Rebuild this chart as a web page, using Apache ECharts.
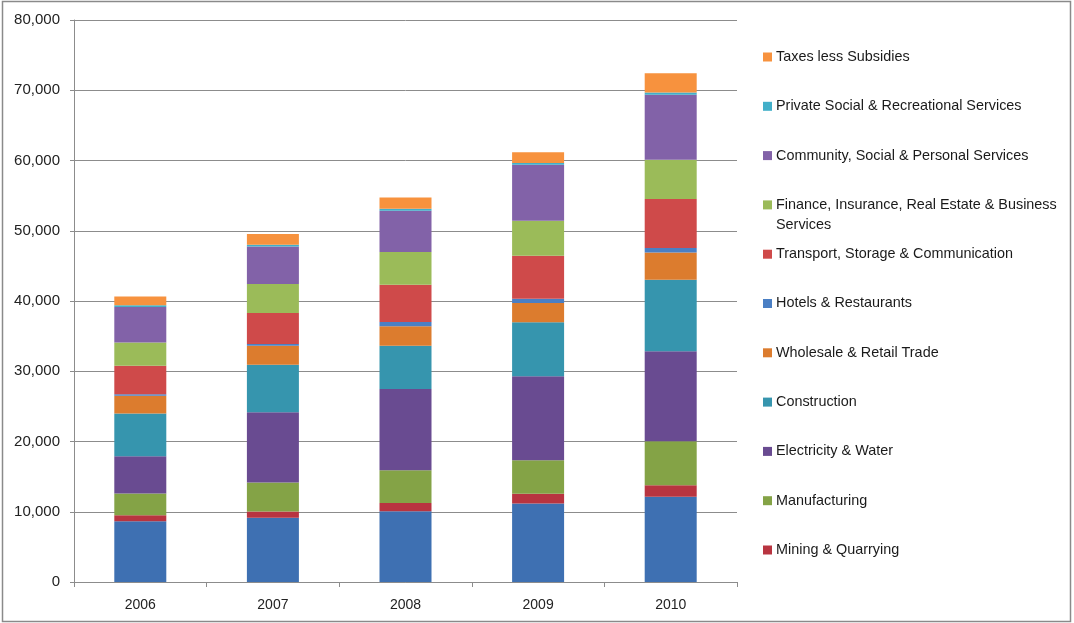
<!DOCTYPE html>
<html>
<head>
<meta charset="utf-8">
<script src="https://cdn.jsdelivr.net/npm/echarts@6/dist/echarts.min.js"></script>
<style>
html,body{margin:0;padding:0;background:#fff;}
#c{width:1074px;height:623px;}
</style>
</head>
<body>
<div id="c"></div>
<script>
const years = ['2006', '2007', '2008', '2009', '2010'];
const yTicks = [0, 10000, 20000, 30000, 40000, 50000, 60000, 70000, 80000];

// bottom to top
const agriculture   = [8650, 9130, 10070, 11170, 12120];
const mining        = [850, 900, 1190, 1380, 1650];
const manufacturing = [3090, 4120, 4640, 4780, 6260];
const electricity   = [5310, 10010, 11580, 11950, 12800];
const construction  = [6070, 6780, 6160, 7680, 10200];
const wholesale     = [2560, 2700, 2750, 2750, 3890];
const hotels        = [180, 240, 620, 620, 620];
const transport     = [4090, 4410, 5310, 6110, 6970];
const finance       = [3310, 4130, 4650, 4980, 5590];
const community     = [5040, 5350, 5870, 7970, 9250];
const privateSocial = [230, 240, 290, 240, 320];
const taxes         = [1270, 1520, 1610, 1560, 2760];

const seriesDefs = [
  {name: 'Agriculture', data: agriculture, color: '#3E70B2'},
  {name: 'Mining & Quarrying', data: mining, color: '#B83440'},
  {name: 'Manufacturing', data: manufacturing, color: '#84A346'},
  {name: 'Electricity & Water', data: electricity, color: '#694B91'},
  {name: 'Construction', data: construction, color: '#3695AE'},
  {name: 'Wholesale & Retail Trade', data: wholesale, color: '#DC7C2E'},
  {name: 'Hotels & Restaurants', data: hotels, color: '#4A7FC4'},
  {name: 'Transport, Storage & Communication', data: transport, color: '#CF4A4A'},
  {name: 'Finance, Insurance, Real Estate & Business Services', data: finance, color: '#9BBB59'},
  {name: 'Community, Social & Personal Services', data: community, color: '#8262A8'},
  {name: 'Private Social & Recreational Services', data: privateSocial, color: '#42AFC9'},
  {name: 'Taxes less Subsidies', data: taxes, color: '#F7923E'}
];

const legendOrder = [
  'Taxes less Subsidies',
  'Private Social & Recreational Services',
  'Community, Social & Personal Services',
  'Finance, Insurance, Real Estate & Business Services',
  'Transport, Storage & Communication',
  'Hotels & Restaurants',
  'Wholesale & Retail Trade',
  'Construction',
  'Electricity & Water',
  'Manufacturing',
  'Mining & Quarrying'
];

const FONT = 'Liberation Sans';

const legends = legendOrder.map((n, i) => ({
  data: [n],
  orient: 'vertical',
  left: 758,
  top: 45 + i * 49.3,
  icon: 'rect',
  itemWidth: 9,
  itemHeight: 9,
  itemGap: 0,
  selectedMode: false,
  formatter: function (name) {
    return name === 'Finance, Insurance, Real Estate & Business Services'
      ? 'Finance, Insurance, Real Estate & Business' : name;
  },
  textStyle: {fontFamily: FONT, fontSize: 14.4, color: '#1a1a1a', padding: [0, 0, 0, -1]}
}));

const chart = echarts.init(document.getElementById('c'), null, {renderer: 'canvas'});
chart.setOption({
  animation: false,
  backgroundColor: '#fff',
  grid: {left: 74, right: 337, top: 20, bottom: 41, containLabel: false},
  legend: legends,
  graphic: [
    {type: 'rect', shape: {x: 2.5, y: 1.5, width: 1068, height: 620},
     style: {fill: 'none', stroke: '#8a8a8a', lineWidth: 1.5}, silent: true},
    {type: 'text', left: 776, top: 218,
     style: {text: 'Services', font: '14.4px "Liberation Sans"', fill: '#1a1a1a'}}
  ],
  xAxis: {
    type: 'category',
    data: years,
    axisLine: {lineStyle: {color: '#8c8c8c', width: 1}},
    axisTick: {show: true, length: 5, lineStyle: {color: '#8c8c8c'}},
    axisLabel: {fontFamily: FONT, fontSize: 14, color: '#222', margin: 16}
  },
  yAxis: {
    type: 'value',
    min: yTicks[0],
    max: yTicks[yTicks.length - 1],
    interval: 10000,
    axisLine: {show: true, lineStyle: {color: '#8c8c8c', width: 1}},
    axisTick: {show: true, length: 4, lineStyle: {color: '#8c8c8c'}},
    splitLine: {lineStyle: {color: '#8c8c8c', width: 1}},
    axisLabel: {
      fontFamily: FONT, fontSize: 15, color: '#222', margin: 14,
      formatter: v => v.toLocaleString('en-US')
    }
  },
  series: seriesDefs.map(s => ({
    name: s.name,
    type: 'bar',
    stack: 'total',
    data: s.data,
    barWidth: 52,
    itemStyle: {color: s.color},
    emphasis: {disabled: true}
  }))
});
</script>
</body>
</html>
